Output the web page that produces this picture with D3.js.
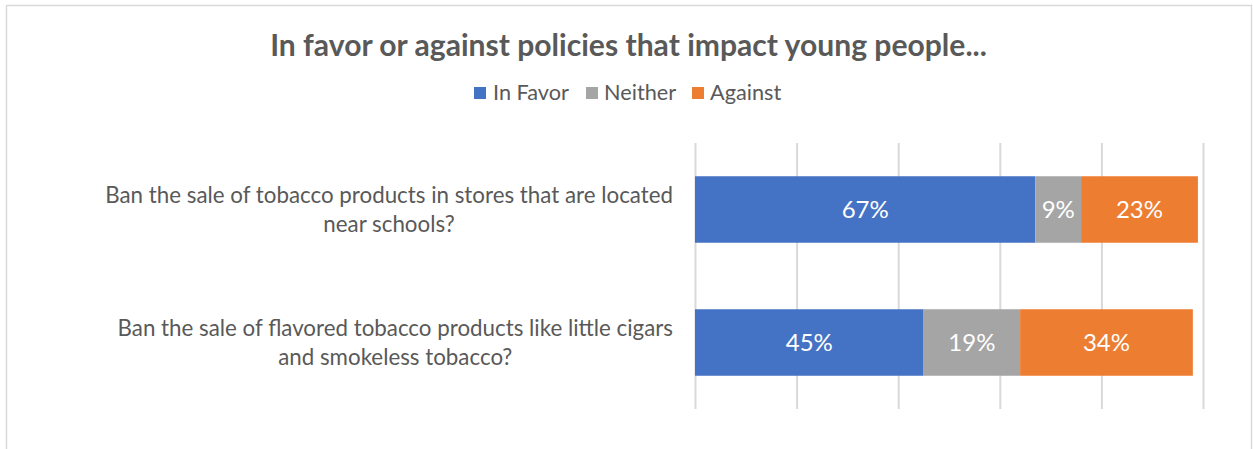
<!DOCTYPE html>
<html>
<head>
<meta charset="utf-8">
<script src="https://cdn.jsdelivr.net/npm/d3@7"></script>
<style>
  html, body { margin: 0; padding: 0; background: #fff; }
  svg { display: block; font-family: Lato, "Open Sans", sans-serif; }
</style>
</head>
<body>
<svg id="chart" width="1253" height="449"></svg>
<script>
// ---- data ----
const title = "In favor or against policies that impact young people...";
const categories = [
  ["Ban the sale of tobacco products in stores that are located", "near schools?"],
  ["Ban the sale of flavored tobacco products like little cigars", "and smokeless tobacco?"]
];
const seriesNames = ["In Favor", "Neither", "Against"];
const inFavorValues = [67, 45];
const neitherValues = [9, 19];
const againstValues = [23, 34];
const gridTicks = [0, 20, 40, 60, 80, 100];

// ---- styles ----
const colors = ["#4472C4", "#A5A5A5", "#ED7D31"];
const textColor = "#595959";
const gridColor = "#D9D9D9";

const svg = d3.select("#chart");

// chart border
svg.append("rect")
  .attr("x", 6.5).attr("y", 5.5)
  .attr("width", 1245).attr("height", 460)
  .attr("fill", "#fff").attr("stroke", gridColor).attr("stroke-width", 1.5);

function measure(txt, size, weight) {
  const t = svg.append("text").attr("font-size", size).attr("font-weight", weight || "normal").text(txt);
  const w = t.node().getComputedTextLength();
  t.remove();
  return w;
}

// scales
const x = d3.scaleLinear().domain([0, 100]).range([695, 1203]);
const y = d3.scaleBand().domain(d3.range(categories.length))
  .range([143, 409]).paddingInner(0.5).paddingOuter(0.25);

// grid lines via axis
const gridAxis = d3.axisBottom(x).tickValues(gridTicks).tickSize(-(409 - 143)).tickFormat("");
const g = svg.append("g").attr("transform", "translate(0,409)").call(gridAxis);
g.select(".domain").remove();
g.selectAll(".tick line").attr("stroke", gridColor).attr("stroke-width", 2);

// stacked data
const rows = categories.map((c, i) => ({
  i, values: [inFavorValues[i], neitherValues[i], againstValues[i]]
}));
const stack = d3.stack().keys([0, 1, 2]).value((d, k) => d.values[k]);
const stacked = stack(rows);

const layer = svg.append("g").selectAll("g").data(stacked).join("g")
  .attr("fill", (d, k) => colors[k]);
layer.selectAll("rect").data(d => d).join("rect")
  .attr("x", d => x(d[0]))
  .attr("width", d => x(d[1]) - x(d[0]))
  .attr("y", (d, i) => y(i))
  .attr("height", y.bandwidth());

// value labels
const labelSize = 24;
stacked.forEach((s, k) => {
  svg.append("g").selectAll("text").data(s).join("text")
    .attr("x", d => (x(d[0]) + x(d[1])) / 2)
    .attr("y", (d, i) => y(i) + y.bandwidth() / 2 + 8.5)
    .attr("text-anchor", "middle")
    .attr("fill", "#fff")
    .attr("font-size", labelSize)
    .text(d => (d[1] - d[0]) + "%");
});

// category labels (size fitted so first line spans ~568px)
const catSize = 20 * 568 / measure(categories[0][0], 20);
categories.forEach((lines, i) => {
  const cy = y(i) + y.bandwidth() / 2;
  const maxW = d3.max(lines, l => measure(l, catSize));
  const cx = 673 - maxW / 2;
  lines.forEach((l, j) => {
    svg.append("text")
      .attr("x", cx)
      .attr("y", cy - 7 + j * 29)
      .attr("text-anchor", "middle")
      .attr("fill", textColor)
      .attr("font-size", catSize)
      .text(l);
  });
});

// title
const titleSize = 20 * 717 / measure(title, 20, "bold");
svg.append("text")
  .attr("x", 628.5).attr("y", 56)
  .attr("text-anchor", "middle")
  .attr("fill", textColor)
  .attr("font-weight", "bold")
  .attr("font-size", titleSize)
  .text(title);

// legend
const legendSize = 20 * 76 / measure(seriesNames[0], 20);
const legendItems = [
  { sx: 474, tx: 493 },
  { sx: 586, tx: 604 },
  { sx: 692, tx: 710 }
];
const lg = svg.append("g");
legendItems.forEach((it, k) => {
  lg.append("rect").attr("x", it.sx).attr("y", 87).attr("width", 12).attr("height", 12)
    .attr("fill", colors[k]);
  lg.append("text").attr("x", it.tx).attr("y", 100)
    .attr("fill", textColor).attr("font-size", legendSize).text(seriesNames[k]);
});
</script>
</body>
</html>
